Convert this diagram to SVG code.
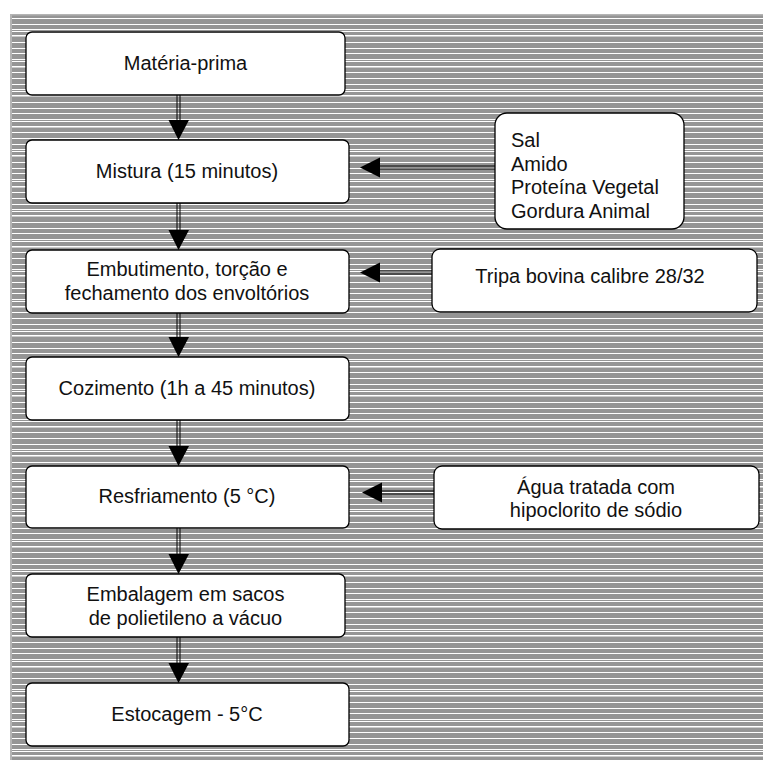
<svg xmlns="http://www.w3.org/2000/svg" width="763" height="760" viewBox="0 0 763 760">
  <defs>
    <!-- striped backdrop: grey field with irregular white rules -->
    <pattern id="stripes" x="0" y="14" width="40" height="60" patternUnits="userSpaceOnUse">
      <rect width="40" height="60" fill="#959595"/>
      <g fill="#ffffff">
        <rect y="4" width="40" height="1"/>
        <rect y="10" width="40" height="1"/>
        <rect y="15" width="40" height="1"/>
        <rect y="17" width="40" height="1"/>
        <rect y="21" width="40" height="1.5"/>
        <rect y="28" width="40" height="1"/>
        <rect y="34" width="40" height="1"/>
        <rect y="39" width="40" height="1"/>
        <rect y="45" width="40" height="1"/>
        <rect y="47" width="40" height="1"/>
        <rect y="52" width="40" height="1.5"/>
        <rect y="58" width="40" height="1"/>
      </g>
    </pattern>
  </defs>
  <style>
    .box { fill: #ffffff; stroke: #000000; stroke-width: 1.3; }
    .lbl { font-family: "Liberation Sans", Arial, sans-serif; font-size: 20px; fill: #111111; }
    .mid { text-anchor: middle; }
    .shaft { stroke: #000000; stroke-width: 1; fill: none; }
    .head { fill: #000000; }
  </style>

  <rect x="0" y="0" width="763" height="760" fill="#ffffff"/>
  <rect x="10" y="14" width="753" height="746" fill="url(#stripes)"/>
  <rect x="10" y="14" width="753" height="1.5" fill="#b4b4b4"/>
  <rect x="10" y="14" width="2" height="746" fill="#b4b4b4"/>

  <!-- connectors -->
  <g id="connectors">
    <!-- vertical flow, double shaft + head -->
    <g>
      <line class="shaft" x1="177" y1="95" x2="177" y2="121"/>
      <line class="shaft" x1="180" y1="95" x2="180" y2="121"/>
      <polygon class="head" points="168.5,120 189,120 178.5,140"/>
    </g>
    <g>
      <line class="shaft" x1="177" y1="203" x2="177" y2="231"/>
      <line class="shaft" x1="180" y1="203" x2="180" y2="231"/>
      <polygon class="head" points="168.5,230 189,230 178.5,250"/>
    </g>
    <g>
      <line class="shaft" x1="177" y1="313" x2="177" y2="338"/>
      <line class="shaft" x1="180" y1="313" x2="180" y2="338"/>
      <polygon class="head" points="168.5,337 189,337 178.5,357"/>
    </g>
    <g>
      <line class="shaft" x1="177" y1="420" x2="177" y2="447"/>
      <line class="shaft" x1="180" y1="420" x2="180" y2="447"/>
      <polygon class="head" points="168.5,446 189,446 178.5,466"/>
    </g>
    <g>
      <line class="shaft" x1="177" y1="528" x2="177" y2="555"/>
      <line class="shaft" x1="180" y1="528" x2="180" y2="555"/>
      <polygon class="head" points="168.5,554 189,554 178.5,574"/>
    </g>
    <g>
      <line class="shaft" x1="177" y1="637" x2="177" y2="664"/>
      <line class="shaft" x1="180" y1="637" x2="180" y2="664"/>
      <polygon class="head" points="168.5,663 189,663 178.5,683"/>
    </g>
    <!-- side inputs, horizontal -->
    <g>
      <line class="shaft" x1="379" y1="166" x2="495" y2="166"/>
      <line class="shaft" x1="379" y1="169" x2="495" y2="169"/>
      <polygon class="head" points="380,157.5 380,177.5 360,167.5"/>
    </g>
    <g>
      <line class="shaft" x1="379" y1="271" x2="432" y2="271"/>
      <line class="shaft" x1="379" y1="274" x2="432" y2="274"/>
      <polygon class="head" points="380,262.5 380,282.5 360,272.5"/>
    </g>
    <g>
      <line class="shaft" x1="381" y1="491" x2="434" y2="491"/>
      <line class="shaft" x1="381" y1="494" x2="434" y2="494"/>
      <polygon class="head" points="382,482.5 382,502.5 362,492.5"/>
    </g>
  </g>

  <!-- process steps -->
  <g id="materia-prima">
    <rect class="box" x="26" y="32" width="319" height="63" rx="6"/>
    <text class="lbl mid" x="185.5" y="70">Matéria-prima</text>
  </g>
  <g id="mistura">
    <rect class="box" x="26" y="140" width="323" height="63" rx="6"/>
    <text class="lbl mid" x="187" y="178">Mistura (15 minutos)</text>
  </g>
  <g id="embutimento">
    <rect class="box" x="26" y="250" width="323" height="63" rx="6"/>
    <text class="lbl mid" x="187" y="276">Embutimento, torção e</text>
    <text class="lbl mid" x="187" y="300">fechamento dos envoltórios</text>
  </g>
  <g id="cozimento">
    <rect class="box" x="26" y="357" width="323" height="63" rx="6"/>
    <text class="lbl mid" x="187" y="395">Cozimento (1h a 45 minutos)</text>
  </g>
  <g id="resfriamento">
    <rect class="box" x="26" y="466" width="323" height="62" rx="6"/>
    <text class="lbl mid" x="187" y="503">Resfriamento (5 °C)</text>
  </g>
  <g id="embalagem">
    <rect class="box" x="26" y="574" width="319" height="63" rx="6"/>
    <text class="lbl mid" x="185.5" y="601">Embalagem em sacos</text>
    <text class="lbl mid" x="185.5" y="625">de polietileno a vácuo</text>
  </g>
  <g id="estocagem">
    <rect class="box" x="26" y="683" width="323" height="63" rx="6"/>
    <text class="lbl mid" x="187" y="721">Estocagem - 5°C</text>
  </g>

  <!-- inputs -->
  <g id="ingredientes">
    <rect class="box" x="495" y="113" width="189" height="116" rx="12"/>
    <text class="lbl" x="511" y="147">Sal</text>
    <text class="lbl" x="511" y="171">Amido</text>
    <text class="lbl" x="511" y="194">Proteína Vegetal</text>
    <text class="lbl" x="511" y="218">Gordura Animal</text>
  </g>
  <g id="tripa">
    <rect class="box" x="432" y="249" width="325" height="63" rx="8"/>
    <text class="lbl mid" x="590" y="283">Tripa bovina calibre 28/32</text>
  </g>
  <g id="agua">
    <rect class="box" x="434" y="466" width="325" height="63" rx="8"/>
    <text class="lbl mid" x="596" y="494">Água tratada com</text>
    <text class="lbl mid" x="596" y="517">hipoclorito de sódio</text>
  </g>
</svg>
